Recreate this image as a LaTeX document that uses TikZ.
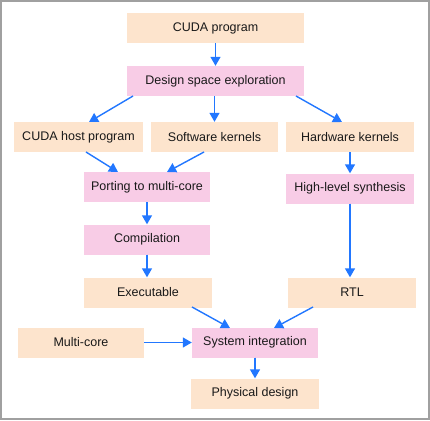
\documentclass[tikz,border=0pt]{standalone}
\usepackage{fontspec}
\setmainfont{Liberation Sans}
\usetikzlibrary{arrows.meta}
\definecolor{peach}{HTML}{FDE4CD}
\definecolor{pinkb}{HTML}{F8CCE6}
\definecolor{arrblue}{HTML}{2277FF}
\definecolor{frame}{HTML}{A0A0A0}
\begin{document}
\begin{tikzpicture}[x=1pt,y=-1pt,
  box/.style={minimum width=#1pt,minimum height=30pt,inner sep=0pt,font=\fontsize{12.5}{14}\selectfont,text=black!90},
  box/.default=127,
  pbox/.style={box=#1,fill=peach},
  pbox/.default=127,
  kbox/.style={box=#1,fill=pinkb},
  kbox/.default=127,
  arr/.style={draw=arrblue,line width=1.4pt,-{Triangle[width=10pt,length=9pt]},fill=arrblue}]
\useasboundingbox (0,0) rectangle (430,420);
\draw[frame,line width=1.6pt] (1,1) rectangle (429,419);
\node[pbox=177] (cuda) at (215.5,28) {CUDA program};
\node[kbox=177] (dse) at (215.5,81) {Design space exploration};
\node[pbox=129] (host) at (78.5,137) {CUDA host program};
\node[pbox=127] (sw) at (214.5,137) {Software kernels};
\node[pbox=128] (hw) at (350,137) {Hardware kernels};
\node[kbox=126] (port) at (147,187) {Porting to multi-core};
\node[kbox=128] (hls) at (350,188.5) {High-level synthesis};
\node[kbox=126] (comp) at (147,239.5) {Compilation};
\node[pbox=128] (exe) at (148,292.5) {Executable};
\node[pbox=128] (rtl) at (352,292.5) {RTL};
\node[pbox=126] (mc) at (81,342.5) {Multi-core};
\node[kbox=126] (si) at (255,342.5) {System integration};
\node[pbox=128] (phys) at (255,393.5) {Physical design};
\coordinate (a1) at (133,96); \coordinate (a2) at (89,122);
\coordinate (b1) at (296,96); \coordinate (b2) at (342,122);
\coordinate (c1) at (86,152); \coordinate (c2) at (118,172);
\coordinate (d1) at (204,152); \coordinate (d2) at (167,172);
\coordinate (e1) at (192,307); \coordinate (e2) at (230,328);
\coordinate (f1) at (313,307); \coordinate (f2) at (274,328);
\draw[arr] (cuda.south) -- (dse.north);
\draw[arr] (a1) -- (a2);
\draw[arr] (dse.south -| sw.north) -- (sw.north);
\draw[arr] (b1) -- (b2);
\draw[arr] (c1) -- (c2);
\draw[arr] (d1) -- (d2);
\draw[arr] (hw.south) -- (hls.north);
\draw[arr] (port.south) -- (comp.north);
\draw[arr] (hls.south) -- (hls.south |- rtl.north);
\draw[arr] (comp.south) -- (comp.south |- exe.north);
\draw[arr] (e1) -- (e2);
\draw[arr] (f1) -- (f2);
\draw[arr] (mc.east) -- (si.west);
\draw[arr] (si.south) -- (phys.north);
\end{tikzpicture}
\end{document}
